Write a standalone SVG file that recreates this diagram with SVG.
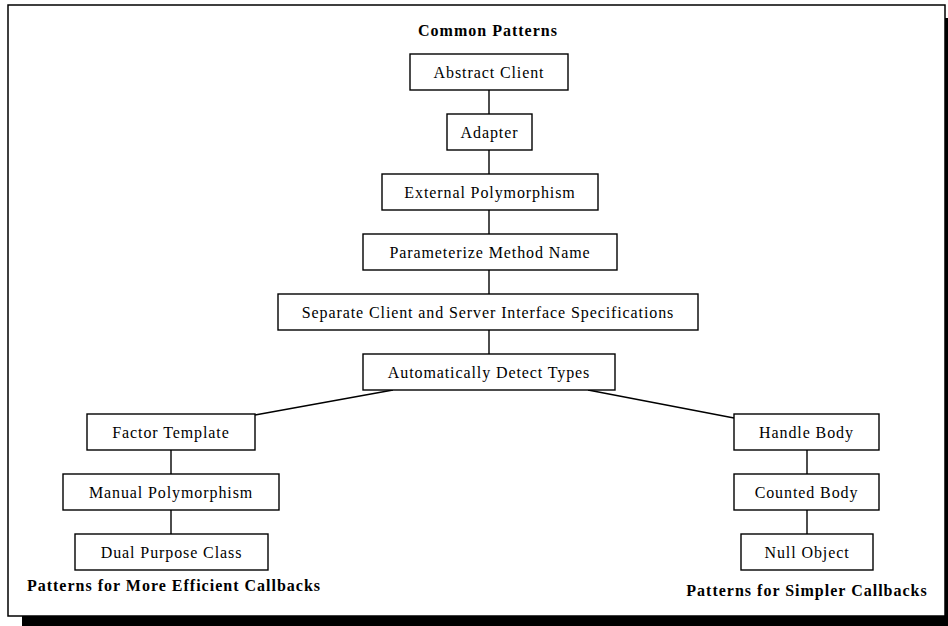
<svg xmlns="http://www.w3.org/2000/svg" width="948" height="626" viewBox="0 0 948 626">
<style>
.box{fill:#fff;stroke:#000;stroke-width:1.4}
.lbl{font-family:"Liberation Serif","Times New Roman",serif;font-size:16px;letter-spacing:0.9px;text-anchor:middle;fill:#000}
.ttl{font-family:"Liberation Serif","Times New Roman",serif;font-size:16px;font-weight:bold;letter-spacing:1px;text-anchor:middle;fill:#000}
.conn line{stroke:#000;stroke-width:1.4}
</style>
<rect x="22" y="18" width="926" height="608" fill="#000"/>
<rect x="8" y="5" width="937" height="611" fill="#fff" stroke="#000" stroke-width="1.5"/>
<text class="ttl" x="488" y="36">Common Patterns</text>
<text class="ttl" x="174" y="591">Patterns for More Efficient Callbacks</text>
<text class="ttl" x="807" y="596">Patterns for Simpler Callbacks</text>
<g class="conn" id="connectors">
<line x1="489" y1="90" x2="489" y2="114"/>
<line x1="489" y1="150" x2="489" y2="174"/>
<line x1="489" y1="210" x2="489" y2="234"/>
<line x1="489" y1="270" x2="489" y2="294"/>
<line x1="489" y1="330" x2="489" y2="354"/>
<line x1="393" y1="390" x2="255" y2="415"/>
<line x1="588" y1="390" x2="734" y2="418"/>
<line x1="171" y1="450" x2="171" y2="474"/>
<line x1="171" y1="510" x2="171" y2="534"/>
<line x1="807" y1="450" x2="807" y2="474"/>
<line x1="807" y1="510" x2="807" y2="534"/>
</g>
<g id="abstract-client"><rect class="box" x="410" y="54" width="158" height="36"/><text class="lbl" x="489" y="77.5">Abstract Client</text></g>
<g id="adapter"><rect class="box" x="447" y="114" width="85" height="36"/><text class="lbl" x="489.5" y="137.5">Adapter</text></g>
<g id="external-polymorphism"><rect class="box" x="382" y="174" width="216" height="36"/><text class="lbl" x="490" y="197.5">External Polymorphism</text></g>
<g id="parameterize-method-name"><rect class="box" x="363" y="234" width="254" height="36"/><text class="lbl" x="490" y="257.5">Parameterize Method Name</text></g>
<g id="separate-interface"><rect class="box" x="278" y="294" width="420" height="36"/><text class="lbl" x="488" y="317.5">Separate Client and Server Interface Specifications</text></g>
<g id="automatically-detect-types"><rect class="box" x="363" y="354" width="252" height="36"/><text class="lbl" x="489" y="377.5">Automatically Detect Types</text></g>
<g id="factor-template"><rect class="box" x="87" y="414" width="168" height="36"/><text class="lbl" x="171" y="437.5">Factor Template</text></g>
<g id="manual-polymorphism"><rect class="box" x="63" y="474" width="216" height="36"/><text class="lbl" x="171" y="497.5">Manual Polymorphism</text></g>
<g id="dual-purpose-class"><rect class="box" x="75" y="534" width="193" height="36"/><text class="lbl" x="171.5" y="557.5">Dual Purpose Class</text></g>
<g id="handle-body"><rect class="box" x="734" y="414" width="145" height="36"/><text class="lbl" x="806.5" y="437.5">Handle Body</text></g>
<g id="counted-body"><rect class="box" x="734" y="474" width="145" height="36"/><text class="lbl" x="806.5" y="497.5">Counted Body</text></g>
<g id="null-object"><rect class="box" x="741" y="534" width="132" height="36"/><text class="lbl" x="807" y="557.5">Null Object</text></g>
</svg>
